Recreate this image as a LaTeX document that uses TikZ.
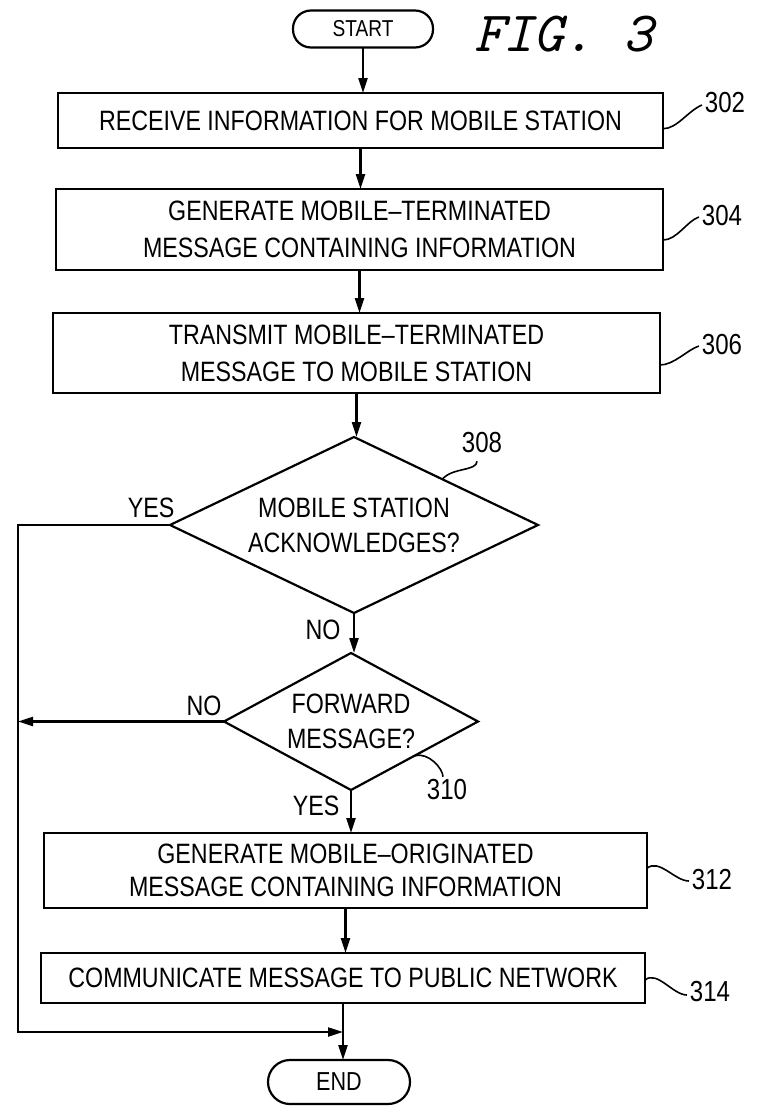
\documentclass[tikz,border=0pt]{standalone}
\usepackage{fontspec}
\setmainfont{Liberation Sans}[FakeStretch=0.83]
\usetikzlibrary{shapes.geometric,arrows.meta,calc}
\tikzset{
  every node/.style={inner sep=0pt, outer sep=0pt},
  proc/.style={draw, rectangle, line width=2.4pt, align=center,
    font=\fontsize{28}{37}\selectfont},
  term/.style={draw, rectangle, line width=2.2pt, align=center},
  dec/.style={draw, diamond, line width=2.2pt, align=center,
    font=\fontsize{28}{35}\selectfont},
  flow/.style={line width=2.2pt, -{Triangle[length=15pt,width=9pt]}},
  lead/.style={line width=1.6pt},
  lbl/.style={font=\fontsize{28}{28}\selectfont},
  refnum/.style={font=\fontsize{29}{29}\selectfont}
}
\begin{document}
\begin{tikzpicture}[x=1pt,y=-1pt]
\useasboundingbox (0,0) rectangle (757,1108);

% terminals
\node[term, minimum width=140pt, minimum height=37pt, rounded corners=18pt,
  font=\fontsize{23}{23}\selectfont] (start) at (363,29) {START};
\node[term, minimum width=142pt, minimum height=44pt, rounded corners=22pt,
  font=\fontsize{26}{26}\selectfont] (end) at (339,1082) {END};

% title
\node[anchor=base west, font=\ttfamily\itshape\fontsize{57}{57}\selectfont] (fig) at (474,52) {FIG. 3};

% process boxes
\node[proc, minimum width=605pt, minimum height=55pt] (b302) at (360.5,120.5)
  {RECEIVE INFORMATION FOR MOBILE STATION};
\node[proc, minimum width=607pt, minimum height=81pt] (b304) at (359.5,229.5)
  {GENERATE MOBILE--TERMINATED\\MESSAGE CONTAINING INFORMATION};
\node[proc, minimum width=607pt, minimum height=80pt] (b306) at (356.5,353)
  {TRANSMIT MOBILE--TERMINATED\\MESSAGE TO MOBILE STATION};
\node[proc, minimum width=603pt, minimum height=75pt,
  font=\fontsize{28}{33}\selectfont] (b312) at (345.5,870.5)
  {GENERATE MOBILE--ORIGINATED\\MESSAGE CONTAINING INFORMATION};
\node[proc, minimum width=604pt, minimum height=50pt] (b314) at (343,978)
  {COMMUNICATE MESSAGE TO PUBLIC NETWORK};

% decisions
\node[dec, shape aspect=2.09, minimum width=368pt, minimum height=176pt] (d308) at (354,525)
  {MOBILE STATION\\ACKNOWLEDGES?};
\node[dec, shape aspect=1.85, minimum width=254pt, minimum height=137pt] (d310) at (351,721.5)
  {FORWARD\\MESSAGE?};

% main flow
\draw[flow] (start.south) -- (start.south |- b302.north);
\draw[flow] (b302.south) -- (b302.south |- b304.north);
\draw[flow] (b304.south) -- (b304.south |- b306.north);
\draw[flow] (b306.south) -- (b306.south |- d308.north);
\draw[flow] (d308.south) -- (d308.south |- d310.north);
\draw[flow] (d310.south) -- (d310.south |- b312.north);
\draw[flow] (b312.south) -- (b312.south |- b314.north);
\draw[flow] (b314.south) -- (b314.south |- end.north);

% bypass loop
\coordinate (L1) at (18,525);
\coordinate (L2) at (18,1032);
\draw[flow] (d308.west) -- (L1) -- (L2) -- (b314.south |- L2);
\draw[flow] (d310.west) -- (d310.west -| L1);

% branch labels
\node[lbl] (yes1) at (151,508) {YES};
\node[lbl] (no1) at (323,630) {NO};
\node[lbl] (no2) at (204,706) {NO};
\node[lbl] (yes2) at (316,806) {YES};

% reference numerals
\node[refnum] (n302) at (725,103) {302};
\node[refnum] (n304) at (722,216) {304};
\node[refnum] (n306) at (722,345) {306};
\node[refnum] (n308) at (482,443) {308};
\node[refnum] (n310) at (447,790) {310};
\node[refnum] (n312) at (712,880) {312};
\node[refnum] (n314) at (710,992) {314};

\draw[lead] ($(b302.north east)!0.65!(b302.south east)$)
  .. controls +(14,0) and +(-14,6) .. ($(n302.west)+(-3,2)$);
\draw[lead] ($(b304.north east)!0.63!(b304.south east)$)
  .. controls +(14,0) and +(-12,4) .. ($(n304.west)+(-3,1)$);
\draw[lead] ($(b306.north east)!0.65!(b306.south east)$)
  .. controls +(14,0) and +(-12,4) .. ($(n306.west)+(-3,1)$);
\draw[lead] ($(b312.north east)!0.47!(b312.south east)$)
  .. controls +(12,-10) and +(-14,0) .. ($(n312.west)+(-3,1)$);
\draw[lead] ($(b314.north east)!0.54!(b314.south east)$)
  .. controls +(12,-10) and +(-14,0) .. ($(n314.west)+(-3,3)$);
\draw[lead] ($(d308.north)!0.48!(d308.east)$)
  .. controls +(10,-12) and +(0,10) .. ($(n308.south)+(-5,8)$);
\draw[lead] ($(d310.east)!0.5!(d310.south)$)
  .. controls +(14,-4) and +(0,-8) .. ($(n310.north)+(-4,-3)$);
\end{tikzpicture}
\end{document}
